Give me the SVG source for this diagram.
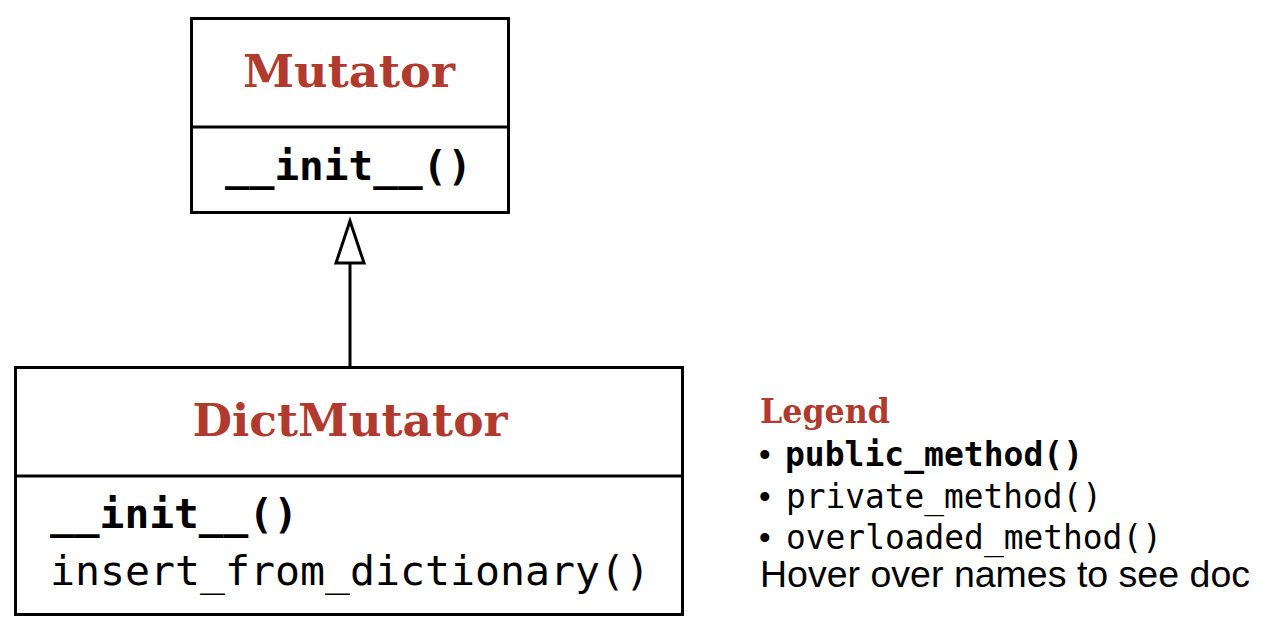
<svg xmlns="http://www.w3.org/2000/svg" width="1275" height="633" viewBox="0 0 1275 633">
<style>
.box{fill:#fff;stroke:#000;stroke-width:3}
.div{stroke:#000;stroke-width:3}
.title{font-family:"DejaVu Serif",serif;font-weight:bold;fill:#b03a2e;text-anchor:middle}
.mono{font-family:"DejaVu Sans Mono",monospace;fill:#000}
.b{font-weight:bold}
.hover{font-family:"Liberation Sans",Arial,sans-serif;fill:#000}
</style>
<rect width="1275" height="633" fill="#fff"/>
<g id="connectors">
<line x1="350" y1="366" x2="350" y2="263" stroke="#000" stroke-width="3"/>
<polygon points="350,221 364,263 336,263" fill="#fff" stroke="#000" stroke-width="3"/>
</g>
<g id="Mutator">
<rect class="box" x="191.5" y="18.5" width="317" height="194"/>
<line class="div" x1="191.5" y1="127" x2="508.5" y2="127"/>
<text class="title" x="349" y="87" font-size="45" textLength="212" lengthAdjust="spacingAndGlyphs">Mutator</text>
<text class="mono b" x="225" y="180" font-size="41" textLength="247" lengthAdjust="spacingAndGlyphs">__init__()</text>
</g>
<g id="DictMutator">
<rect class="box" x="15.5" y="367.5" width="667" height="247"/>
<line class="div" x1="15.5" y1="476" x2="682.5" y2="476"/>
<text class="title" x="350" y="436" font-size="45" textLength="315" lengthAdjust="spacingAndGlyphs">DictMutator</text>
<text class="mono b" x="50" y="528" font-size="41" textLength="248" lengthAdjust="spacingAndGlyphs">__init__()</text>
<text class="mono" x="50" y="585" font-size="41" textLength="600" lengthAdjust="spacingAndGlyphs">insert_from_dictionary()</text>
</g>
<g id="legend">
<text class="title" x="760" y="423" font-size="34" style="text-anchor:start" textLength="130" lengthAdjust="spacingAndGlyphs">Legend</text>
<text class="hover" x="759" y="466" font-size="33">•</text>
<text class="mono b" x="785" y="466" font-size="33" textLength="298" lengthAdjust="spacingAndGlyphs">public_method()</text>
<text class="hover" x="759" y="508" font-size="33">•</text>
<text class="mono" x="786" y="508" font-size="33" textLength="316" lengthAdjust="spacingAndGlyphs">private_method()</text>
<text class="hover" x="759" y="549" font-size="33">•</text>
<text class="mono" x="786" y="549" font-size="33" textLength="376" lengthAdjust="spacingAndGlyphs">overloaded_method()</text>
<text class="hover" x="760" y="587" font-size="36" textLength="490" lengthAdjust="spacingAndGlyphs">Hover over names to see doc</text>
</g>
</svg>
